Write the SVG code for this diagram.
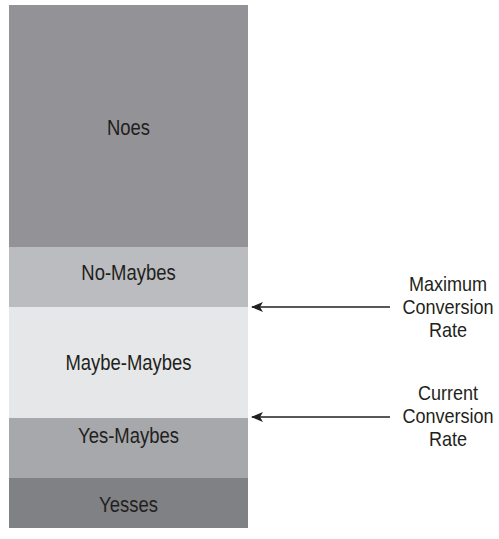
<svg xmlns="http://www.w3.org/2000/svg" width="499" height="539" viewBox="0 0 499 539">
<style>
.lbl{font-family:"Liberation Sans",Arial,sans-serif;font-size:22px;fill:#231f20;text-anchor:middle}
.rl{font-family:"Liberation Sans",Arial,sans-serif;font-size:20.5px;fill:#231f20;text-anchor:middle}
.conn{stroke:#231f20;stroke-width:1.6;fill:none}
</style>
<defs>
<marker id="ah" markerWidth="13" markerHeight="10" refX="11" refY="5" orient="auto" markerUnits="userSpaceOnUse">
<path d="M12,5 L0,0 L3,5 L0,10 Z" fill="#231f20"/>
</marker>
</defs>
<rect width="499" height="539" fill="#fff"/>
<g id="noes"><rect x="9" y="5" width="239" height="242" fill="#939397"/><text class="lbl" transform="translate(128.5,135) scale(0.84,1)">Noes</text></g>
<g id="no-maybes"><rect x="9" y="247" width="239" height="60" fill="#bbbcbf"/><text class="lbl" transform="translate(128.5,279.5) scale(0.84,1)">No-Maybes</text></g>
<g id="maybe-maybes"><rect x="9" y="307" width="239" height="111" fill="#e6e7e8"/><text class="lbl" transform="translate(128.5,370) scale(0.84,1)">Maybe-Maybes</text></g>
<g id="yes-maybes"><rect x="9" y="418" width="239" height="60" fill="#a7a8ab"/><text class="lbl" transform="translate(128.5,443) scale(0.84,1)">Yes-Maybes</text></g>
<g id="yesses"><rect x="9" y="478" width="239" height="50" fill="#808184"/><text class="lbl" transform="translate(128.5,512) scale(0.84,1)">Yesses</text></g>
<g id="max-label"><text class="rl" transform="translate(448,290.5) scale(0.88,1)">Maximum</text><text class="rl" transform="translate(448,313.5) scale(0.88,1)">Conversion</text><text class="rl" transform="translate(448,336.5) scale(0.88,1)">Rate</text></g>
<g id="cur-label"><text class="rl" transform="translate(448,400) scale(0.88,1)">Current</text><text class="rl" transform="translate(448,423) scale(0.88,1)">Conversion</text><text class="rl" transform="translate(448,446) scale(0.88,1)">Rate</text></g>
<g id="connectors">
<line class="conn" x1="390" y1="307" x2="252" y2="307" marker-end="url(#ah)"/>
<line class="conn" x1="390" y1="417" x2="252" y2="417" marker-end="url(#ah)"/>
</g>
</svg>
